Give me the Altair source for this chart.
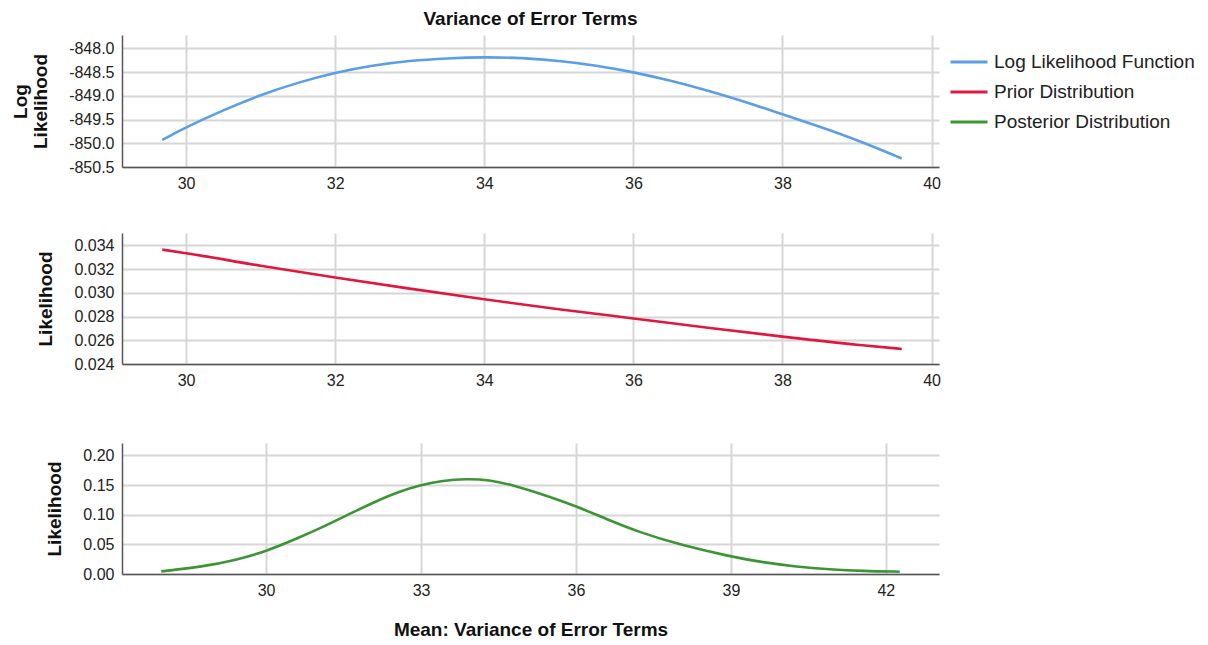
import altair as alt
import pandas as pd

FONT = "Liberation Sans"

series_names = ["Log Likelihood Function", "Prior Distribution", "Posterior Distribution"]
series_colors = ["#5b9ee8", "#e2173f", "#3c9535"]

# Panel 1: log likelihood function
ll_x = [29.68, 30.0, 30.5, 31.0, 31.5, 32.0, 32.5, 33.0, 33.5, 34.0, 34.5,
        35.0, 35.5, 36.0, 36.5, 37.0, 37.5, 38.0, 38.5, 39.0, 39.6]
ll_y = [-849.93, -849.66, -849.30, -848.98, -848.72, -848.51, -848.36, -848.26,
        -848.21, -848.185, -848.20, -848.26, -848.36, -848.50, -848.68, -848.89,
        -849.125, -849.39, -849.65, -849.93, -850.32]

# Panel 2: prior distribution
prior_x = [29.68, 30.0, 31.0, 32.0, 33.0, 34.0, 35.0, 36.0, 37.0, 38.0, 39.0, 39.6]
prior_y = [0.03364, 0.03334, 0.03228, 0.03129, 0.03035, 0.02945, 0.02862,
           0.02784, 0.02706, 0.02631, 0.02562, 0.02527]

# Panel 3: posterior distribution
post_x = [27.97, 28.77, 29.42, 30.0, 30.58, 31.16, 31.68, 32.13, 32.58, 33.0,
          33.42, 33.87, 34.32, 34.77, 35.29, 36.0, 36.58, 37.23, 38.0, 39.0,
          39.62, 40.27, 40.91, 41.56, 42.27]
post_y = [0.0044, 0.0123, 0.0236, 0.0382, 0.059, 0.0816, 0.104, 0.1226, 0.139,
          0.150, 0.1576, 0.1605, 0.1588, 0.150, 0.136, 0.1145, 0.0929, 0.0703,
          0.0495, 0.0292, 0.0196, 0.0123, 0.0078, 0.0051, 0.0039]

top_x_ticks = [30, 32, 34, 36, 38, 40]
bot_x_ticks = [30, 33, 36, 39, 42]
ll_ticks = [-848.0, -848.5, -849.0, -849.5, -850.0, -850.5]
prior_ticks = [0.024, 0.026, 0.028, 0.030, 0.032, 0.034]
post_ticks = [0.00, 0.05, 0.10, 0.15, 0.20]

df_ll = pd.DataFrame({"x": ll_x, "y": ll_y, "series": series_names[0]})
df_prior = pd.DataFrame({"x": prior_x, "y": prior_y})
df_post = pd.DataFrame({"x": post_x, "y": post_y})

W = 817
MINUS = "\u2212"

top = alt.Chart(df_ll).mark_line(strokeWidth=2.6, interpolate="basis").encode(
    x=alt.X("x:Q", scale=alt.Scale(domain=[29.14, 40.1], nice=False, zero=False),
            axis=alt.Axis(values=top_x_ticks, format="d", title=None)),
    y=alt.Y("y:Q", scale=alt.Scale(domain=[-850.5, -847.72], nice=False, zero=False),
            axis=alt.Axis(values=ll_ticks, title=["Log", "Likelihood"], titleLineHeight=20,
                          labelExpr=f"replace(format(datum.value, '.1f'), '{MINUS}', '-')")),
    color=alt.Color("series:N", scale=alt.Scale(domain=series_names, range=series_colors),
                    legend=alt.Legend(title=None, orient="none", legendX=827, legendY=7,
                                      symbolType="stroke", symbolSize=1369, symbolStrokeWidth=3,
                                      labelFontSize=19, labelFont=FONT, labelColor="#222",
                                      labelLimit=0, labelOffset=5, rowPadding=0, padding=0)),
).properties(width=W, height=132,
             title=alt.Title("Variance of Error Terms", anchor="middle", frame="group",
                             fontSize=19, font=FONT, fontWeight="bold", offset=6, color="#111"))

mid = alt.Chart(df_prior).mark_line(strokeWidth=2.6, interpolate="monotone",
                                    color=series_colors[1]).encode(
    x=alt.X("x:Q", scale=alt.Scale(domain=[29.14, 40.1], nice=False, zero=False),
            axis=alt.Axis(values=top_x_ticks, format="d", title=None)),
    y=alt.Y("y:Q", scale=alt.Scale(domain=[0.024, 0.03504], nice=False, zero=False),
            axis=alt.Axis(values=prior_ticks, format=".3f", title="Likelihood")),
).properties(width=W, height=131)

bot = alt.Chart(df_post).mark_line(strokeWidth=2.6, interpolate="basis",
                                   color=series_colors[2]).encode(
    x=alt.X("x:Q", scale=alt.Scale(domain=[27.21, 43.03], nice=False, zero=False),
            axis=alt.Axis(values=bot_x_ticks, format="d", title="Mean: Variance of Error Terms",
                          titlePadding=22)),
    y=alt.Y("y:Q", scale=alt.Scale(domain=[0, 0.2208], nice=False, zero=False),
            axis=alt.Axis(values=post_ticks, format=".2f", title="Likelihood")),
).properties(width=W, height=131)

upper = alt.vconcat(top, mid, spacing=42).resolve_scale(color="independent").resolve_legend(color="independent")
chart = alt.vconcat(upper, bot, spacing=55).resolve_scale(color="independent").resolve_legend(color="independent")

chart = chart.properties(
    padding={"left": 3, "top": 2, "right": 5, "bottom": 5}
).configure(font=FONT).configure_axis(
    labelFont=FONT, labelFontSize=16, labelColor="#222",
    titleFont=FONT, titleFontSize=19, titleFontWeight="bold", titleColor="#111",
    grid=True, gridColor="#d6d6d6", gridWidth=2,
    domainColor="#555555", domainWidth=1.5,
    ticks=False, labelPadding=8, titlePadding=18,
).configure_view(stroke=None)

chart.save("out.html", embed_options={"renderer": "svg", "actions": False})
